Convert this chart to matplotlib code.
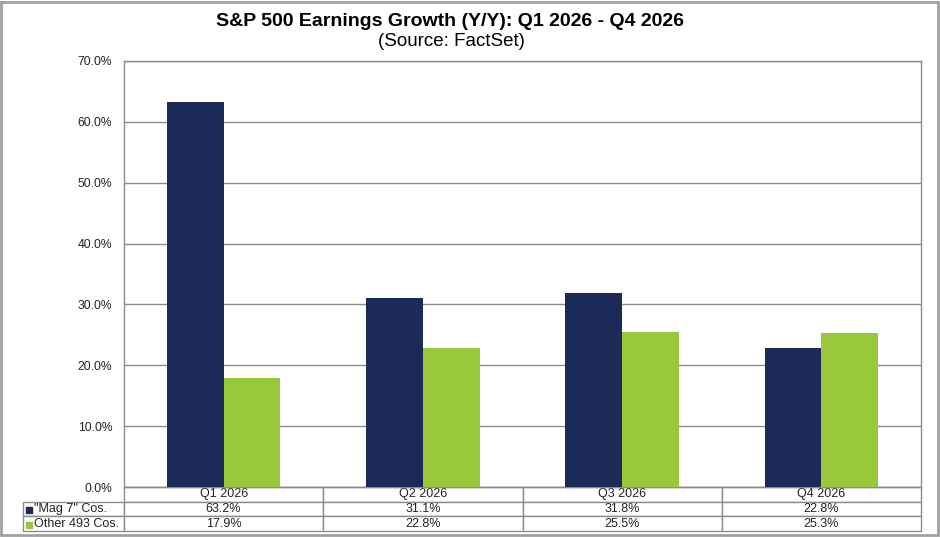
import numpy as np
import matplotlib
matplotlib.use("Agg")
from matplotlib import pyplot as plt
from matplotlib.patches import Rectangle

quarters = ["Q1 2026", "Q2 2026", "Q3 2026", "Q4 2026"]
mag7 = [63.2, 31.1, 31.8, 22.8]
other493 = [17.9, 22.8, 25.5, 25.3]
series_names = ['"Mag 7" Cos.', "Other 493 Cos."]
yticks = [0, 10, 20, 30, 40, 50, 60, 70]

navy = "#1b2a57"
green = "#9ac83c"
gridc = "#8c8c8c"

plt.rcParams["font.family"] = ["Liberation Sans", "DejaVu Sans"]

W, H = 940, 537
fig = plt.figure(figsize=(W / 100, H / 100), dpi=100)

# outer grey frame
fig.patches.append(Rectangle((0.001, 0.004), 0.997, 0.993, transform=fig.transFigure,
                             fill=False, edgecolor="#a0a0a0", linewidth=2))

L, R, T, B = 124, 921, 61, 487
ax = fig.add_axes([L / W, 1 - B / H, (R - L) / W, (B - T) / H])

x = np.arange(len(quarters))
bw = 0.285
ax.bar(x - bw / 2, mag7, bw, color=navy, zorder=3)
ax.bar(x + bw / 2, other493, bw, color=green, zorder=3)

ax.set_xlim(-0.5, len(quarters) - 0.5)
ax.set_ylim(0, 70)
ax.set_yticks(yticks)
ax.set_yticklabels(["%.1f%%" % v for v in yticks], fontsize=8.7, color="#222222")
ax.tick_params(axis="y", length=0, pad=8.5)
ax.set_xticks([])
ax.yaxis.grid(True, color=gridc, linewidth=1)
for s in ax.spines.values():
    s.set_color(gridc)
    s.set_linewidth(1)

fig.text(450 / W, 1 - 21 / H, "S&P 500 Earnings Growth (Y/Y): Q1 2026 - Q4 2026",
         ha="center", va="center", fontsize=14, fontweight="bold")
fig.text(451 / W, 1 - 41 / H, "(Source: FactSet)", ha="center", va="center", fontsize=13.5)

# data table under the axis
lab_w = (L - 23) / (R - L)
tab_h = (531 - 487) / (B - T)
cells = [[""] + quarters,
         [series_names[0]] + ["%.1f%%" % v for v in mag7],
         [series_names[1]] + ["%.1f%%" % v for v in other493]]
tab = ax.table(cellText=cells, cellLoc="center",
               colWidths=[lab_w] + [0.25] * 4,
               bbox=[-lab_w, -tab_h, 1 + lab_w, tab_h])
tab.auto_set_font_size(False)
for (r, c), cell in tab.get_celld().items():
    cell.set_edgecolor(gridc)
    cell.set_linewidth(1)
    cell.get_text().set_fontsize(9)
    cell.get_text().set_color("#222222")
    if r == 0 and c == 0:
        cell.visible_edges = ""
    if c == 0 and r > 0:
        cell.get_text().set_ha("left")
        cell._loc = "left"
        cell.PAD = 0.11

# legend keys in the label column
for i, col in enumerate([navy, green]):
    yc = (B - (502 + 7.5 + 15 * i)) / (B - T)
    ax.plot([(29 - L) / (R - L)], [yc], marker="s", markersize=4.5, color=col,
            transform=ax.transAxes, clip_on=False, zorder=5)

fig.savefig("out.png", dpi=100)
